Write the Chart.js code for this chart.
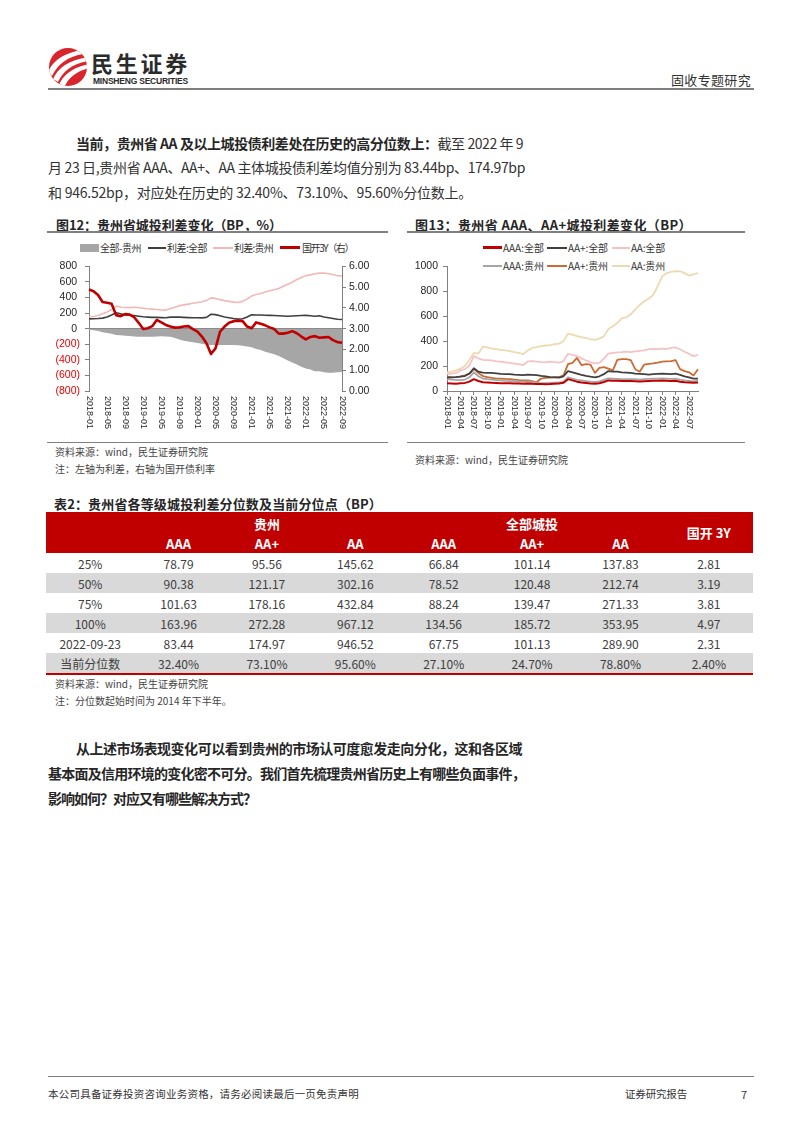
<!DOCTYPE html>
<html lang="zh-CN">
<head>
<meta charset="utf-8">
<script src="https://cdn.jsdelivr.net/npm/chart.js@4.4.1/dist/chart.umd.min.js"></script>
<style>
html,body{margin:0;padding:0;background:#fff;}
#page{position:relative;width:802px;height:1133px;overflow:hidden;font-family:"Noto Sans CJK SC","Noto Sans",sans-serif;color:#333;}
.t{position:absolute;white-space:nowrap;line-height:1;}
.ln{position:absolute;background:#7f7f7f;}
canvas{position:absolute;}
.lg{position:absolute;font-size:10px;line-height:1;white-space:nowrap;color:#333;}
.sw{position:absolute;}
#tbl{position:absolute;left:46px;top:512px;width:707px;border-collapse:separate;border-spacing:0;table-layout:fixed;font-size:12px;color:#404040;}
#tbl td{padding:0;text-align:center;vertical-align:middle;white-space:nowrap;}
#tbl thead td{background:#c00000;color:#fff;font-weight:bold;font-size:13px;}
#tbl tbody tr{height:20px;}
#tbl tbody tr.g td{background:#d9d9d9;}
</style>
</head>
<body>
<div id="page">
  <!-- header -->
  <svg style="position:absolute;left:0;top:0" width="200" height="100">
    <defs><clipPath id="cc"><circle cx="68" cy="67" r="19"/></clipPath></defs>
    <circle cx="68" cy="67" r="19" fill="#d9262c"/>
    <g clip-path="url(#cc)" fill="#fff">
      <path d="M48,72 C53,61 63,53 82,50 L83,54 C67,57 58,64 52,76 Z"/>
      <path d="M53,79 C58,68 68,60 88,57 L88,61 C72,64 63,71 58,82 Z"/>
      <path d="M59,85 C63,75 73,67 90,64 L90,68 C76,71 68,78 64,88 Z"/>
    </g>
  </svg>
  <div class="t" style="left:91px;top:51px;font-size:22px;font-weight:bold;color:#2b2b2b" data-w="99">民生证券</div>
  <div class="t" style="left:93px;top:77px;font-size:8.5px;font-weight:bold;color:#2b2b2b;font-family:'Liberation Sans',Arial,sans-serif" data-w="95">MINSHENG SECURITIES</div>
  <div class="t" style="left:671px;top:72.5px;font-size:13px;color:#333" data-w="80">固收专题研究</div>
  <div class="ln" style="left:48px;top:88px;width:706px;height:2px;"></div>

  <!-- paragraph 1 -->
  <div class="t" style="left:76px;top:136px;font-size:14px;color:#333" data-w="447"><b style="color:#262626">当前，贵州省 AA 及以上城投债利差处在历史的高分位数上：</b>截至 2022 年 9</div>
  <div class="t" style="left:48px;top:160px;font-size:14px;color:#333" data-w="477">月 23 日,贵州省 AAA、AA+、AA 主体城投债利差均值分别为 83.44bp、174.97bp</div>
  <div class="t" style="left:48px;top:184.5px;font-size:14px;color:#333" data-w="424">和 946.52bp，对应处在历史的 32.40%、73.10%、95.60%分位数上。</div>

  <!-- chart 1 frame -->
  <div class="t" style="left:56px;top:217.5px;font-size:13px;font-weight:bold;color:#262626" data-w="226">图12：贵州省城投利差变化（BP，%）</div>
  <div class="ln" style="left:47px;top:231px;width:341px;height:1.5px;"></div>
  <div class="sw" style="left:80px;top:243.5px;width:19px;height:8px;background:#a6a6a6"></div>
  <div class="lg" style="left:100px;top:242.5px" data-w="41">全部-贵州</div>
  <div class="sw" style="left:148px;top:246.5px;width:18px;height:2px;background:#404040"></div>
  <div class="lg" style="left:167px;top:242.5px" data-w="40">利差:全部</div>
  <div class="sw" style="left:213px;top:246.5px;width:20px;height:2px;background:#f2b8b8"></div>
  <div class="lg" style="left:234px;top:242.5px" data-w="39">利差:贵州</div>
  <div class="sw" style="left:280px;top:246px;width:20px;height:3px;background:#c00000"></div>
  <div class="lg" style="left:302px;top:242.5px" data-w="51">国开3Y（右）</div>
  <canvas id="c1" width="340" height="180" style="left:48px;top:255px"></canvas>
  <div class="ln" style="left:47px;top:441.5px;width:341px;height:1.5px;"></div>
  <div class="t" style="left:55px;top:447px;font-size:10px;color:#444">资料来源：wind，民生证券研究院</div>
  <div class="t" style="left:55px;top:464px;font-size:10px;color:#444">注：左轴为利差，右轴为国开债利率</div>

  <!-- chart 2 frame -->
  <div class="t" style="left:415px;top:217.5px;font-size:13px;font-weight:bold;color:#262626" data-w="277">图13：贵州省 AAA、AA+城投利差变化（BP）</div>
  <div class="ln" style="left:407px;top:231px;width:338px;height:1.5px;"></div>
  <div class="sw" style="left:483px;top:246px;width:19px;height:3px;background:#c00000"></div>
  <div class="lg" style="left:503px;top:242.5px" data-w="41">AAA:全部</div>
  <div class="sw" style="left:547px;top:246.5px;width:20px;height:2px;background:#404040"></div>
  <div class="lg" style="left:568px;top:242.5px" data-w="40">AA+:全部</div>
  <div class="sw" style="left:612px;top:246.5px;width:18px;height:2px;background:#f4c4c4"></div>
  <div class="lg" style="left:631px;top:242.5px" data-w="34">AA:全部</div>
  <div class="sw" style="left:483px;top:264.5px;width:19px;height:2px;background:#a6a6a6"></div>
  <div class="lg" style="left:503px;top:260.5px" data-w="41">AAA:贵州</div>
  <div class="sw" style="left:547px;top:264.5px;width:20px;height:2px;background:#c86b35"></div>
  <div class="lg" style="left:568px;top:260.5px" data-w="40">AA+:贵州</div>
  <div class="sw" style="left:612px;top:264.5px;width:18px;height:2px;background:#efd9b0"></div>
  <div class="lg" style="left:631px;top:260.5px" data-w="34">AA:贵州</div>
  <canvas id="c2" width="337" height="176" style="left:408px;top:255px"></canvas>
  <div class="ln" style="left:407px;top:441.5px;width:338px;height:1.5px;"></div>
  <div class="t" style="left:415px;top:455px;font-size:10px;color:#444">资料来源：wind，民生证券研究院</div>

  <!-- table -->
  <div class="t" style="left:54px;top:496.5px;font-size:13px;font-weight:bold;color:#262626" data-w="328">表2：贵州省各等级城投利差分位数及当前分位点（BP）</div>
  <table id="tbl">
    <colgroup><col style="width:88.375px"><col style="width:88.375px"><col style="width:88.375px"><col style="width:88.375px"><col style="width:88.375px"><col style="width:88.375px"><col style="width:88.375px"><col style="width:88.375px"></colgroup>
    <thead>
      <tr style="height:22px"><td rowspan="2"></td><td colspan="3">贵州</td><td colspan="3">全部城投</td><td rowspan="2">国开 3Y</td></tr>
      <tr id="hdr2" style="height:19px"></tr>
    </thead>
    <tbody id="tbody"></tbody>
  </table>
  <div class="ln" style="left:46px;top:673px;width:707px;height:2px;background:#c00000"></div>
  <div class="t" style="left:55px;top:679px;font-size:10px;color:#444">资料来源：wind，民生证券研究院</div>
  <div class="t" style="left:55px;top:696px;font-size:10px;color:#444">注：分位数起始时间为 2014 年下半年。</div>

  <!-- paragraph 2 -->
  <div class="t" style="left:76px;top:741px;font-size:14px;font-weight:bold;color:#262626" data-w="446">从上述市场表现变化可以看到贵州的市场认可度愈发走向分化，这和各区域</div>
  <div class="t" style="left:48px;top:766px;font-size:14px;font-weight:bold;color:#262626" data-w="477">基本面及信用环境的变化密不可分。我们首先梳理贵州省历史上有哪些负面事件，</div>
  <div class="t" style="left:48px;top:791px;font-size:14px;font-weight:bold;color:#262626" data-w="208">影响如何？对应又有哪些解决方式？</div>

  <!-- footer -->
  <div class="ln" style="left:48px;top:1075.5px;width:706px;height:1px;"></div>
  <div class="t" style="left:48px;top:1088.5px;font-size:10.5px;color:#333" data-w="311">本公司具备证券投资咨询业务资格，请务必阅读最后一页免责声明</div>
  <div class="t" style="left:625px;top:1088.5px;font-size:10.5px;color:#333" data-w="62">证券研究报告</div>
  <div class="t" style="left:741px;top:1088.5px;font-size:11px;color:#333">7</div>
</div>

<script>
// ---------- data ----------
const months = [
'2018-01','2018-02','2018-03','2018-04','2018-05','2018-06','2018-07','2018-08','2018-09','2018-10','2018-11','2018-12',
'2019-01','2019-02','2019-03','2019-04','2019-05','2019-06','2019-07','2019-08','2019-09','2019-10','2019-11','2019-12',
'2020-01','2020-02','2020-03','2020-04','2020-05','2020-06','2020-07','2020-08','2020-09','2020-10','2020-11','2020-12',
'2021-01','2021-02','2021-03','2021-04','2021-05','2021-06','2021-07','2021-08','2021-09','2021-10','2021-11','2021-12',
'2022-01','2022-02','2022-03','2022-04','2022-05','2022-06','2022-07','2022-08','2022-09'];

// chart 12 (BP, %)
const gapAllMinusGZ = [
-15,-20,-30,-45,-55,-65,-80,-85,-90,-95,-100,-105,
-105,-105,-103,-100,-98,-100,-105,-120,-140,-155,-165,-175,
-185,-195,-205,-210,-210,-210,-210,-210,-210,-212,-218,-228,
-240,-260,-275,-295,-312,-330,-350,-380,-410,-435,-460,-488,
-510,-525,-545,-548,-560,-565,-565,-560,-555];
const spreadAll = [
125,128,130,135,150,175,205,190,178,172,168,160,
152,148,145,145,142,140,148,150,148,145,142,140,
140,138,145,185,180,165,150,140,130,122,128,150,
178,175,175,172,170,168,165,162,160,162,165,168,
170,165,160,165,150,140,130,120,118];
const spreadGZ = [
150,155,170,190,215,245,290,275,272,270,275,268,
262,255,250,245,240,238,255,275,295,305,315,325,
335,345,360,395,388,372,360,350,340,335,350,380,
420,438,452,470,485,500,515,545,570,595,630,655,
680,690,705,712,712,705,695,680,675];
const cdb3y = [
4.88,4.80,4.62,4.28,4.25,4.20,3.65,3.60,3.70,3.68,3.55,3.28,
2.98,3.02,3.12,3.42,3.30,3.18,3.10,3.05,3.06,3.10,3.12,2.98,
2.86,2.62,2.30,1.78,2.05,2.85,3.10,3.28,3.36,3.38,3.36,3.10,
3.02,3.30,3.24,3.16,3.06,2.98,2.76,2.76,2.80,2.88,2.78,2.62,
2.48,2.60,2.64,2.56,2.58,2.60,2.45,2.35,2.32];
const leftTicks1 = {min:-800, max:800, step:200};
const rightTicks1 = {min:0, max:6, step:1};

// chart 13 (BP)
const aaaAll = [
62,60,58,62,65,75,95,80,70,68,66,65,
63,62,62,60,60,58,60,58,57,56,55,56,
58,60,66,95,85,75,68,64,60,58,62,72,
85,82,82,80,80,80,78,76,78,80,82,82,
85,83,80,82,75,70,68,66,68];
const aaPlusAll = [
108,110,112,115,120,140,182,155,148,145,145,142,
138,135,135,132,130,128,132,130,128,122,118,112,
110,108,118,160,150,140,130,122,115,110,118,135,
160,155,155,150,148,145,140,138,135,132,135,138,
140,138,135,140,130,118,110,100,100];
const aaAll = [
135,140,145,165,175,205,280,262,250,248,245,238,
235,230,225,220,215,208,238,240,235,232,230,235,
232,228,240,298,290,280,262,245,232,222,225,260,
300,305,310,312,315,312,318,322,325,335,338,335,
340,338,345,350,335,315,298,280,290];
const aaaGZ = [
95,92,90,88,92,110,150,118,100,95,92,88,
85,82,80,78,76,75,74,72,68,62,62,64,
66,68,75,110,100,90,85,80,75,72,78,90,
102,100,98,95,95,96,95,92,95,98,100,100,
102,100,98,100,92,85,82,78,83];
const aaPlusGZ = [
115,110,112,118,125,140,178,145,120,112,105,100,
100,97,95,92,88,85,85,80,70,100,105,108,
112,112,125,215,225,265,208,215,212,145,185,192,
180,165,250,255,255,248,175,155,212,218,222,228,
235,238,240,248,175,160,150,125,175];
const aaGZ = [
150,155,165,180,200,250,305,300,355,350,340,335,
330,325,320,312,305,295,325,345,352,360,365,368,
375,380,400,460,452,440,432,425,415,410,420,440,
497,520,545,585,590,615,655,690,720,740,770,840,
920,945,955,962,960,945,925,935,945];
const leftTicks2 = {min:0, max:1000, step:200};

// table 2
const tableGrades = ['AAA','AA+','AA','AAA','AA+','AA'];
const tableRowLabels = ['25%','50%','75%','100%','2022-09-23','当前分位数'];
const tableGzAAA   = ['78.79','90.38','101.63','163.96','83.44','32.40%'];
const tableGzAAp   = ['95.56','121.17','178.16','272.28','174.97','73.10%'];
const tableGzAA    = ['145.62','302.16','432.84','967.12','946.52','95.60%'];
const tableAllAAA  = ['66.84','78.52','88.24','134.56','67.75','27.10%'];
const tableAllAAp  = ['101.14','120.48','139.47','185.72','101.13','24.70%'];
const tableAllAA   = ['137.83','212.74','271.33','353.95','289.90','78.80%'];
const tableCdb3y   = ['2.81','3.19','3.81','4.97','2.31','2.40%'];

// ---------- table ----------
const hdr2 = document.getElementById('hdr2');
tableGrades.forEach(g => { const td = document.createElement('td'); td.textContent = g; hdr2.appendChild(td); });
const tbody = document.getElementById('tbody');
tableRowLabels.forEach((lab, i) => {
  const tr = document.createElement('tr');
  if (i % 2 === 1) tr.className = 'g';
  [lab, tableGzAAA[i], tableGzAAp[i], tableGzAA[i], tableAllAAA[i], tableAllAAp[i], tableAllAA[i], tableCdb3y[i]]
    .forEach(v => { const td = document.createElement('td'); td.textContent = v; tr.appendChild(td); });
  tbody.appendChild(tr);
});

// ---------- text fitting ----------
document.querySelectorAll('[data-w]').forEach(el => {
  el.style.letterSpacing = '0px';
  const w = el.getBoundingClientRect().width;
  const n = Array.from(el.textContent).length;
  el.style.letterSpacing = ((parseFloat(el.dataset.w) - w) / n).toFixed(3) + 'px';
});

// ---------- charts ----------
Chart.defaults.font.family = '"Liberation Sans", Arial, sans-serif';
Chart.defaults.color = '#262626';

const rotLabels = {
  id: 'rotLabels',
  afterDraw(chart, args, opts) {
    const xs = chart.scales.x, ctx = chart.ctx;
    ctx.save();
    ctx.font = opts.font; ctx.fillStyle = opts.color;
    ctx.textAlign = 'left'; ctx.textBaseline = 'middle';
    chart.data.labels.forEach((lab, i) => {
      if (i % opts.every !== 0) return;
      const x = xs.getPixelForValue(i);
      ctx.save();
      ctx.translate(x, chart.chartArea.bottom + opts.gap);
      ctx.rotate(Math.PI / 2);
      ctx.fillText(lab, 0, 0);
      ctx.restore();
    });
    ctx.restore();
  }
};
const AX = '#808080';

new Chart(document.getElementById('c1'), {
  type: 'line',
  data: {
    labels: months,
    datasets: [
      {label:'全部-贵州', data:gapAllMinusGZ, yAxisID:'y', fill:'origin', backgroundColor:'#a6a6a6', borderWidth:0, pointRadius:0, order:4},
      {label:'利差:全部', data:spreadAll, yAxisID:'y', borderColor:'#404040', borderWidth:1.6, pointRadius:0, fill:false, order:3},
      {label:'利差:贵州', data:spreadGZ, yAxisID:'y', borderColor:'#f2b8b8', borderWidth:1.6, pointRadius:0, fill:false, order:2},
      {label:'国开3Y（右）', data:cdb3y, yAxisID:'y1', borderColor:'#c00000', borderWidth:2.6, pointRadius:0, fill:false, order:1}
    ]
  },
  options: {
    responsive:false, animation:false,
    layout:{padding:{top:10, bottom:44, left:0, right:0}},
    elements:{line:{tension:0, borderJoinStyle:'round'}},
    plugins:{legend:{display:false}, tooltip:{enabled:false},
      rotLabels:{every:4, gap:5, font:'9px "Liberation Sans"', color:'#262626'}},
    scales:{
      x:{type:'category', position:{y:0}, offset:false,
         grid:{drawOnChartArea:false, drawTicks:true, tickLength:4, tickColor:c => (c.index % 4 === 0 ? AX : 'rgba(0,0,0,0)')},
         border:{color:AX, width:1}, ticks:{display:false, autoSkip:false}},
      y:{position:'left', min:leftTicks1.min, max:leftTicks1.max,
         ticks:{stepSize:leftTicks1.step, padding:5, font:{size:10.5},
                color:c => (c.tick.value < 0 ? '#e60000' : '#262626'),
                callback:v => (v < 0 ? '(' + Math.abs(v) + ')' : v + ' ')},
         grid:{drawOnChartArea:false, tickLength:4, tickColor:AX}, border:{color:AX, width:1},
         afterFit:s => { s.width = 41; }},
      y1:{position:'right', min:rightTicks1.min, max:rightTicks1.max,
         ticks:{stepSize:rightTicks1.step, padding:3, font:{size:10.5}, color:'#262626', callback:v => Number(v).toFixed(2)},
         grid:{drawOnChartArea:false, tickLength:4, tickColor:AX}, border:{color:AX, width:1},
         afterFit:s => { s.width = 46; }}
    }
  },
  plugins:[rotLabels]
});

new Chart(document.getElementById('c2'), {
  type: 'line',
  data: {
    labels: months,
    datasets: [
      {label:'AAA:全部', data:aaaAll, borderColor:'#c00000', borderWidth:2, pointRadius:0, fill:false},
      {label:'AA+:全部', data:aaPlusAll, borderColor:'#404040', borderWidth:1.8, pointRadius:0, fill:false},
      {label:'AA:全部', data:aaAll, borderColor:'#f4c4c4', borderWidth:1.8, pointRadius:0, fill:false},
      {label:'AAA:贵州', data:aaaGZ, borderColor:'#a6a6a6', borderWidth:1.8, pointRadius:0, fill:false},
      {label:'AA+:贵州', data:aaPlusGZ, borderColor:'#c86b35', borderWidth:1.8, pointRadius:0, fill:false},
      {label:'AA:贵州', data:aaGZ, borderColor:'#efd9b0', borderWidth:1.8, pointRadius:0, fill:false}
    ]
  },
  options: {
    responsive:false, animation:false,
    layout:{padding:{top:10, bottom:0, left:0, right:47}},
    elements:{line:{tension:0, borderJoinStyle:'round'}},
    plugins:{legend:{display:false}, tooltip:{enabled:false},
      rotLabels:{every:3, gap:5, font:'9px "Liberation Sans"', color:'#262626'}},
    scales:{
      x:{type:'category', position:'bottom', offset:false,
         grid:{drawOnChartArea:false, drawTicks:true, tickLength:4, tickColor:c => (c.index % 3 === 0 ? AX : 'rgba(0,0,0,0)')},
         border:{color:AX, width:1}, ticks:{display:false, autoSkip:false},
         afterFit:s => { s.height = 40; }},
      y:{position:'left', min:leftTicks2.min, max:leftTicks2.max,
         ticks:{stepSize:leftTicks2.step, padding:5, font:{size:10.5}, color:'#262626', callback:v => String(v)},
         grid:{drawOnChartArea:false, tickLength:4, tickColor:AX}, border:{color:AX, width:1},
         afterFit:s => { s.width = 39; }}
    }
  },
  plugins:[rotLabels]
});
</script>
</body>
</html>
